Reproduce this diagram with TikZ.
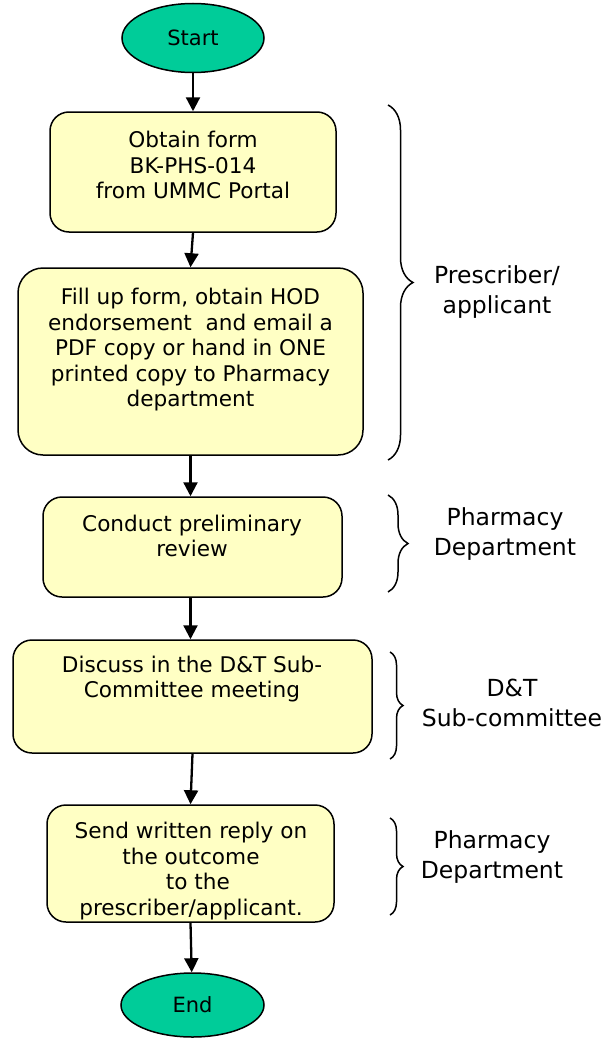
\documentclass[tikz,border=0pt]{standalone}
\usepackage{fontspec}
\setmainfont{DejaVu Sans}
\usetikzlibrary{shapes.geometric,arrows.meta,decorations.pathreplacing}
\definecolor{boxfill}{HTML}{FFFFC4}
\definecolor{termfill}{HTML}{00CC99}
\tikzset{
  every node/.style={font=\fontsize{21}{25.5}\selectfont},
  term/.style={ellipse,draw,line width=1.5pt,fill=termfill,inner sep=0pt},
  flowbox/.style={rectangle,draw,line width=1.5pt,fill=boxfill,rounded corners=19pt,inner sep=0pt},
  boxtext/.style={align=center,inner sep=0pt,font=\fontsize{21.6}{25.5}\selectfont},
  sidelabel/.style={align=center,inner sep=0pt,font=\fontsize{23.5}{30}\selectfont},
  arr/.style={line width=2.3pt,-{Triangle[width=14pt,length=14pt]}},
  bracestyle/.style={line width=1.5pt,decorate},
}
\begin{document}
\begin{tikzpicture}[x=1pt,y=-1pt]
\useasboundingbox (0,0) rectangle (609,1041);
\node[term,minimum width=142pt,minimum height=69pt] (start) at (193,38) {Start};
\node[flowbox,minimum width=286pt,minimum height=120pt] (b1) at (193,172) {};
\node[boxtext] (t1) at (193,165) {Obtain form\\BK-PHS-014\\from UMMC Portal};
\node[flowbox,rounded corners=25pt,minimum width=345pt,minimum height=187pt] (b2) at (190.5,361.5) {};
\node[boxtext] (t2) at (190.5,350) {Fill up form, obtain HOD\\endorsement\ \ and email a\\PDF copy or hand in ONE\\printed copy to Pharmacy\\department};
\node[flowbox,minimum width=299pt,minimum height=100pt] (b3) at (192.5,547) {};
\node[boxtext] (t3) at (192,536) {Conduct preliminary\\review};
\node[flowbox,minimum width=359pt,minimum height=113pt] (b4) at (192.5,696.5) {};
\node[boxtext] (t4) at (192,679) {Discuss in the D\&T Sub-\\Committee meeting};
\node[flowbox,minimum width=287pt,minimum height=117pt] (b5) at (190.5,863.5) {};
\node[boxtext] (t5) at (191,871) {Send written reply on\\the outcome\\\ \ to the\\prescriber/applicant.};
\node[term,minimum width=143pt,minimum height=64pt] (end) at (192.5,1005) {End};

\draw[arr] (start) -- (b1);
\draw[arr] (b1.south) -- (b2.north);
\draw[arr] (b2.south) -- (b2.south |- b3.north);
\draw[arr] (b2.south |- b3.south) -- (b2.south |- b4.north);
\draw[arr] (b4.south) -- (b5.north);
\draw[arr] (b5.south) -- (end);

\coordinate (r1a) at (388,105);
\coordinate (r1b) at (388,460);
\coordinate (r2a) at (388,495);
\coordinate (r2b) at (388,592);
\coordinate (r3a) at (390,652);
\coordinate (r3b) at (390,759);
\coordinate (r4a) at (390,818);
\coordinate (r4b) at (390,915);
\draw[bracestyle,decoration={brace,amplitude=25pt}] (r1a) -- (r1b);
\draw[bracestyle,decoration={brace,amplitude=20pt}] (r2a) -- (r2b);
\draw[bracestyle,decoration={brace,amplitude=13pt}] (r3a) -- (r3b);
\draw[bracestyle,decoration={brace,amplitude=13pt}] (r4a) -- (r4b);

\node[sidelabel] (l1) at (497,292) {Prescriber/\\applicant};
\node[sidelabel] (l2) at (505,534) {Pharmacy\\Department};
\node[sidelabel] (l3) at (512,703) {D\&T\\Sub-committee};
\node[sidelabel] (l4) at (492,857) {Pharmacy\\Department};
\end{tikzpicture}
\end{document}
